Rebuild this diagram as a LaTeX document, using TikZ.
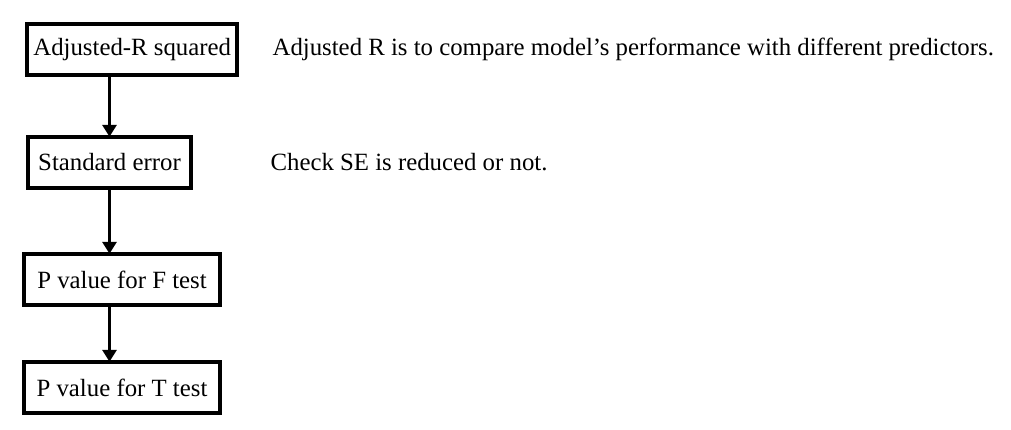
\documentclass[tikz,border=0pt]{standalone}
\usepackage{fontspec}
\setmainfont{Liberation Serif}
\usepackage{tikz}
\usetikzlibrary{arrows.meta, positioning}

\begin{document}
\begin{tikzpicture}[
  node distance=30.8pt and 17.5pt,
  stage/.style={
    rectangle, draw=black, line width=1.8pt, minimum height=25.7pt,
    inner sep=0pt, outer sep=0pt, align=center, font=\fontsize{12.4}{14}\selectfont
  },
  arrow/.style={-{Triangle[width=7pt,length=6pt]}, line width=1.6pt},
  note/.style={inner sep=0pt, anchor=west, font=\fontsize{12.4}{14}\selectfont}
]
\useasboundingbox (0,0) rectangle (505.5pt,-214.5pt);

% Stage nodes
\node[stage, minimum width=105pt, anchor=north west] (adjr) at (13.6pt,-11.9pt) {Adjusted-R squared};
\node[stage, minimum width=81.7pt, below=of adjr.south west, xshift=0.3pt, anchor=north west] (stderr) {Standard error};
\node[stage, minimum width=98.2pt, below=32.8pt of stderr.south west, xshift=-2pt, anchor=north west] (pf) {P value for F test};
\node[stage, minimum width=98.2pt, below=28.3pt of pf.south west, anchor=north west] (pt) {P value for T test};

% Side notes
\node[note, right=of adjr] (noteadjr) {Adjusted R is to compare model’s performance with different predictors.};
\node[note, right=39.5pt of stderr] (notese) {Check SE is reduced or not.};

% Arrows
\draw[arrow] (adjr.south -| stderr.south) -- (stderr.north);
\draw[arrow] (stderr.south) -- (pf.north -| stderr.north);
\draw[arrow] (pf.south -| stderr.south) -- (pt.north -| stderr.north);

\end{tikzpicture}
\end{document}
